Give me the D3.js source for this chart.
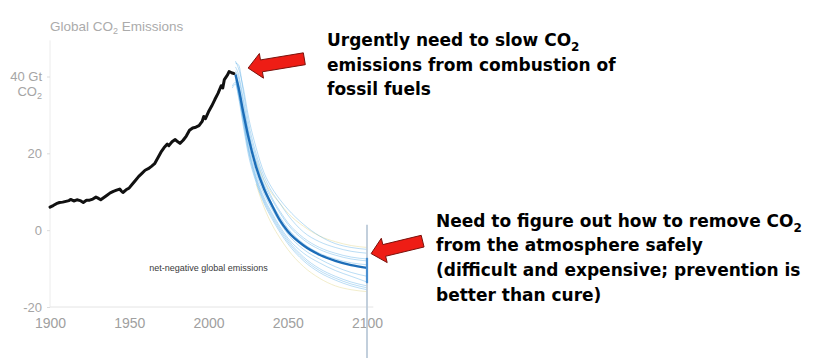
<!DOCTYPE html>
<html>
<head>
<meta charset="utf-8">
<script src="https://cdn.jsdelivr.net/npm/d3@7"></script>
<style>
  html, body { margin: 0; padding: 0; background: #fff; }
  svg { display: block; }
</style>
</head>
<body>
<svg id="chart" width="826" height="358"></svg>
<script>
// ---------- DATA ----------
const xTicks = [1900, 1950, 2000, 2050, 2100];
const yTicks = [-20, 0, 20, 40];
const yTickLabels = ["-20", "0", "20", "40 Gt"];

const histYears = [1900,1902,1904,1906,1908,1910,1912,1913,1915,1917,1919,1921,1923,1925,1927,1929,1930,1932,1934,1936,1938,1940,1942,1944,1945,1946,1948,1950,1952,1954,1956,1958,1960,1962,1964,1966,1968,1970,1972,1974,1975,1977,1979,1980,1982,1984,1986,1988,1990,1992,1994,1996,1997,1998,2000,2002,2004,2006,2008,2009,2010,2012,2013,2014,2015,2016];
const histValues = [6.0,6.4,6.9,7.2,7.3,7.5,7.7,8.0,7.6,7.9,7.7,7.2,7.8,7.8,8.1,8.6,8.4,7.9,8.5,9.1,9.7,10.1,10.4,10.7,10.2,9.8,10.5,11.0,12.0,13.0,14.0,14.8,15.6,16.0,16.6,17.3,18.8,20.3,21.5,22.4,22.0,23.0,23.6,23.2,22.6,23.4,24.5,26.0,26.6,26.8,27.2,28.3,29.6,29.0,30.8,32.3,34.0,35.6,37.6,37.0,39.2,40.4,41.3,41.1,40.9,40.8];

const scenarioYears = [2015,2017,2019,2022,2025,2030,2035,2040,2045,2050,2060,2070,2080,2090,2100];
const mainScenario = [null,40.5,37,30.5,24.5,16.5,10.8,6.5,2.6,-0.3,-4,-6.4,-8,-9.1,-9.8];
const scenario1  = [null,42.5,40.5,34,27,19,13,8.5,5,2,-2,-4.5,-6,-7,-7.5];
const scenario2  = [null,40,36,29,22,14,8.5,4.5,1,-2,-6,-8.5,-10.5,-12,-13.5];
const scenario3  = [null,43.5,43,36,28.5,20,14,10,7,4,-0.5,-3,-4.5,-5.5,-6];
const scenario4  = [37.5,38.5,35,28,21,13,7.5,3.5,0,-3,-7.5,-10.5,-12.5,-14,-15];
const scenario5  = [null,41,38,31.5,25.5,17.5,11.5,7,3.5,0.5,-3.5,-6,-7.5,-8.5,-9];
const scenario6  = [37,38,34.5,27,20,12.5,7,3,-0.5,-3.5,-8,-11,-13,-14.5,-15.5];
const scenario7  = [null,44,42,37,30,21.5,15,11,8,5.5,1.5,-1.5,-3.5,-4.5,-5];
const scenario8  = [null,40,37.5,30,23,15,9.5,5.5,2,-1,-5,-7.5,-9.5,-11,-12];
const scenario9  = [null,41.5,39.5,33,26,18,12,8,4.5,1.5,-2.5,-5,-6.5,-7.5,-8];
const scenario10 = [null,39,35.5,28.5,21.5,13.5,8,4,0.5,-2.5,-7,-10,-12,-13.5,-14.5];
const faintScenarioA = [null,null,null,null,null,18,13,9.5,7,4.5,1,-1.5,-3,-4,-4.5];
const faintScenarioB = [null,null,null,null,null,12,6,1.5,-2,-5,-9.5,-12.5,-14.5,-15.5,-16];

const thinScenarios = [scenario1,scenario2,scenario3,scenario4,scenario5,scenario6,scenario7,scenario8,scenario9,scenario10];
const faintScenarios = [faintScenarioA, faintScenarioB];

const rangeAt2100 = [-7.2, -13.8];     // highlighted spread at 2100
const arrowTips = [{year: 2025, value: 42.2}, {year: 2102.6, value: -6.1}];

// ---------- LAYOUT ----------
const svg = d3.select("#chart");
const x = d3.scaleLinear().domain([1900, 2100]).range([50, 367]);
const y = d3.scaleLinear().domain([-20, 40]).range([307, 76.5]);
const axisFont = "'Liberation Sans', Arial, Helvetica, sans-serif";
const boldFont = "'DejaVu Sans', Verdana, sans-serif";

// title
const title = svg.append("text").attr("x", 50).attr("y", 31)
  .attr("font-family", axisFont).attr("font-size", 13.5).attr("fill", "#ababab");
title.append("tspan").text("Global CO");
title.append("tspan").attr("font-size", 9).attr("dy", 3).text("2");
title.append("tspan").attr("dy", -3).text(" Emissions");

// axis lines
svg.append("line").attr("x1", x(1900)).attr("x2", x(1900))
  .attr("y1", y(49.4)).attr("y2", y(-20))
  .attr("stroke", "#ececec").attr("stroke-width", 1);
svg.append("line").attr("x1", x(1900)).attr("x2", x(2104))
  .attr("y1", y(-20)).attr("y2", y(-20))
  .attr("stroke", "#e4e4e4").attr("stroke-width", 1);

// y axis
const yAxis = d3.axisLeft(y).tickValues(yTicks).tickSize(3).tickSizeOuter(0)
  .tickFormat((d, i) => yTickLabels[i]).tickPadding(5);
const gy = svg.append("g").attr("transform", `translate(${x(1900)},0)`).call(yAxis);
gy.select(".domain").remove();
gy.selectAll(".tick line").attr("stroke", "#dcdcdc");
gy.selectAll(".tick text").attr("font-family", axisFont).attr("font-size", 13)
  .attr("fill", "#a5a5a5");
// second line of the 40 label
const co2 = svg.append("text").attr("x", x(1900) - 8).attr("y", y(40) + 19)
  .attr("text-anchor", "end").attr("font-family", axisFont).attr("font-size", 13).attr("fill", "#a5a5a5");
co2.append("tspan").text("CO");
co2.append("tspan").attr("font-size", 9).attr("dy", 3).text("2");

// x axis
const xAxis = d3.axisBottom(x).tickValues(xTicks).tickSize(0).tickSizeOuter(0)
  .tickFormat(d3.format("d")).tickPadding(11);
const gx = svg.append("g").attr("transform", `translate(0,${y(-20)})`).call(xAxis);
gx.select(".domain").remove();
gx.selectAll(".tick text").attr("font-family", axisFont).attr("font-size", 14)
  .attr("fill", "#a0a0a0");

// net-negative label
svg.append("text").attr("x", x(2000)).attr("y", y(-10.6))
  .attr("text-anchor", "middle").attr("font-family", axisFont).attr("font-size", 9)
  .attr("fill", "#3a3a3a").text("net-negative global emissions");

// scenario lines
const scenLine = d3.line()
  .defined(d => d[1] !== null)
  .x(d => x(d[0])).y(d => y(d[1]))
  .curve(d3.curveMonotoneX);
const zipS = arr => scenarioYears.map((yr, i) => [yr, arr[i]]);

svg.append("g").selectAll("path").data(faintScenarios).join("path")
  .attr("d", d => scenLine(zipS(d)))
  .attr("fill", "none").attr("stroke", "#e9e1a8").attr("stroke-width", 1).attr("opacity", 0.6);

svg.append("g").selectAll("path").data(thinScenarios).join("path")
  .attr("d", d => scenLine(zipS(d)))
  .attr("fill", "none").attr("stroke", "#5aaee8").attr("stroke-width", 1).attr("opacity", 0.42);

svg.append("path").attr("d", scenLine(zipS(mainScenario)))
  .attr("fill", "none").attr("stroke", "#1c6db8").attr("stroke-width", 2.4)
  .attr("stroke-linejoin", "round");

// historical line
const histLine = d3.line().x(d => x(d[0])).y(d => y(d[1])).curve(d3.curveLinear);
svg.append("path").attr("d", histLine(histYears.map((yr, i) => [yr, histValues[i]])))
  .attr("fill", "none").attr("stroke", "#111").attr("stroke-width", 3)
  .attr("stroke-linejoin", "round").attr("stroke-linecap", "round");

// 2100 vertical marker
svg.append("line").attr("x1", x(2100)).attr("x2", x(2100))
  .attr("y1", y(1.4)).attr("y2", 358)
  .attr("stroke", "#bccad9").attr("stroke-width", 1.8);
svg.append("line").attr("x1", x(2100)).attr("x2", x(2100))
  .attr("y1", y(rangeAt2100[0])).attr("y2", y(rangeAt2100[1]))
  .attr("stroke", "#4a8fd0").attr("stroke-width", 2.2);

// arrows
function arrowPath(tx, ty, ux, uy, L, headLen, headHalf, shaftHalf) {
  const nx = -uy, ny = ux;
  const bx = tx + headLen * ux, by = ty + headLen * uy;
  const ex = tx + L * ux, ey = ty + L * uy;
  const p = [
    [tx, ty],
    [bx + headHalf * nx, by + headHalf * ny],
    [bx + shaftHalf * nx, by + shaftHalf * ny],
    [ex + shaftHalf * nx, ey + shaftHalf * ny],
    [ex - shaftHalf * nx, ey - shaftHalf * ny],
    [bx - shaftHalf * nx, by - shaftHalf * ny],
    [bx - headHalf * nx, by - headHalf * ny]
  ];
  return "M" + p.map(q => q.join(",")).join("L") + "Z";
}
const arrowDirs = [[0.986, -0.163, 57], [0.972, -0.235, 53]];
arrowTips.forEach((t, i) => {
  const [ux, uy, L] = arrowDirs[i];
  svg.append("path")
    .attr("d", arrowPath(x(t.year), y(t.value), ux, uy, L, 13.5, 12.5, 6))
    .attr("fill", "#ee1d15").attr("stroke", "#7a120c").attr("stroke-width", 1)
    .attr("stroke-linejoin", "miter");
});

// annotation text blocks
function block(x0, y0, lh, lines) {
  const t = svg.append("text").attr("font-family", boldFont).attr("font-weight", "bold")
    .attr("font-size", 17).attr("fill", "#000");
  lines.forEach((ln, i) => {
    const parts = ln.split("₂");
    t.append("tspan").attr("x", x0).attr("y", y0 + i * lh).text(parts[0]);
    if (parts.length > 1) {
      t.append("tspan").attr("font-size", 12).attr("dy", 5).text("2");
      t.append("tspan").attr("dy", -5).text(parts[1]);
    }
  });
}
block(327, 46, 24.5, ["Urgently need to slow CO₂", "emissions from combustion of", "fossil fuels"]);
block(436, 226.5, 24.7, ["Need to figure out how to remove CO₂", "from the atmosphere safely",
  "(difficult and expensive; prevention is", "better than cure)"]);
</script>
</body>
</html>
